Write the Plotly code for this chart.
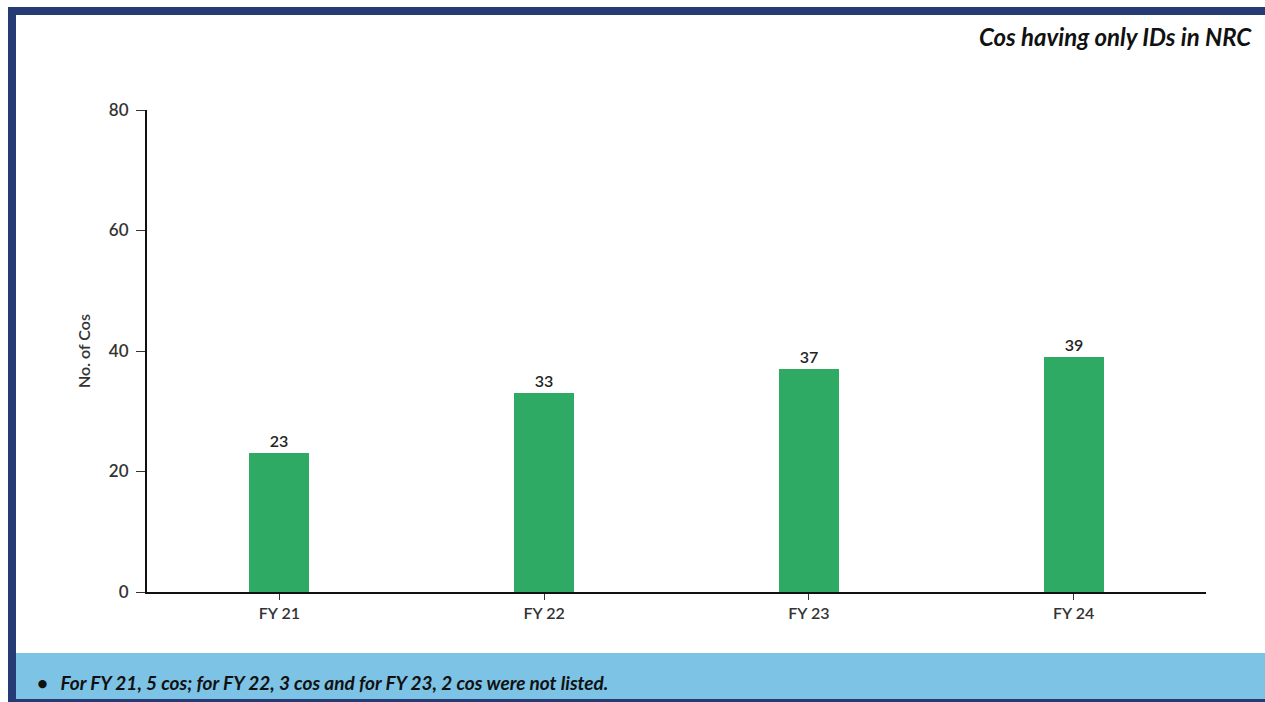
import plotly.graph_objects as go

categories = ["FY 21", "FY 22", "FY 23", "FY 24"]
values = [23, 33, 37, 39]
y_ticks = [0, 20, 40, 60, 80]

title_text = "<b><i>Cos having only IDs in NRC</i></b>"
note_text = "<b><i>•   For FY 21, 5 cos; for FY 22, 3 cos and for FY 23, 2 cos were not listed.</i></b>"

W, H = 1265, 702
L, R, T, B = 147, 1206, 110, 592
FONT = "Lato"

def px(x):
    return (x - L) / (R - L)

def py(y):
    return (B - y) / (B - T)

fig = go.Figure()
fig.add_trace(go.Bar(
    x=categories, y=values,
    marker=dict(color="#2EAA64", line=dict(width=0)),
    width=0.227,
    text=[str(v) for v in values],
    textposition="outside",
    textfont=dict(family=FONT, size=16, color="#222222", weight=600),
    cliponaxis=False,
))

navy = "#263A73"
shapes = [
    dict(type="rect", xref="paper", yref="paper", x0=px(8), x1=px(W), y0=py(15), y1=py(7),
         fillcolor=navy, line=dict(width=0), layer="below"),
    dict(type="rect", xref="paper", yref="paper", x0=px(8), x1=px(16), y0=py(H), y1=py(7),
         fillcolor=navy, line=dict(width=0), layer="below"),
    dict(type="rect", xref="paper", yref="paper", x0=px(16), x1=px(W), y0=py(699), y1=py(653),
         fillcolor="#7DC3E5", line=dict(width=0), layer="below"),
    dict(type="rect", xref="paper", yref="paper", x0=px(8), x1=px(W), y0=py(H), y1=py(699),
         fillcolor=navy, line=dict(width=0), layer="below"),
]

annotations = [
    dict(text=title_text, xref="paper", yref="paper", x=px(1254), y=py(36),
         xanchor="right", yanchor="middle", showarrow=False,
         font=dict(family=FONT, size=24, color="#111111")),
    dict(text=note_text, xref="paper", yref="paper", x=px(35), y=py(682),
         xanchor="left", yanchor="middle", showarrow=False,
         font=dict(family=FONT, size=19, color="#111111")),
]

fig.update_layout(
    width=W, height=H,
    margin=dict(l=L, r=W - R, t=T, b=H - B, pad=0),
    paper_bgcolor="white", plot_bgcolor="white",
    showlegend=False,
    shapes=shapes,
    annotations=annotations,
    xaxis=dict(
        range=[-0.5, 3.5], showgrid=False, zeroline=False,
        showline=True, linecolor="#111111", linewidth=2,
        ticks="outside", ticklen=6, tickwidth=1.2, tickcolor="#333333",
        tickfont=dict(family=FONT, size=16, color="#333333", weight=600),
    ),
    yaxis=dict(
        range=[0, 80], tickvals=y_ticks, showgrid=False, zeroline=False,
        showline=True, linecolor="#111111", linewidth=2,
        ticks="outside", ticklen=9, tickwidth=1.2, tickcolor="#333333",
        ticklabelstandoff=4,
        tickfont=dict(family=FONT, size=17, color="#333333", weight=600),
        title=dict(text="No. of Cos", font=dict(family=FONT, size=16, color="#333333", weight=600), standoff=14),
    ),
    bargap=0,
)

fig.write_html("out.html")
